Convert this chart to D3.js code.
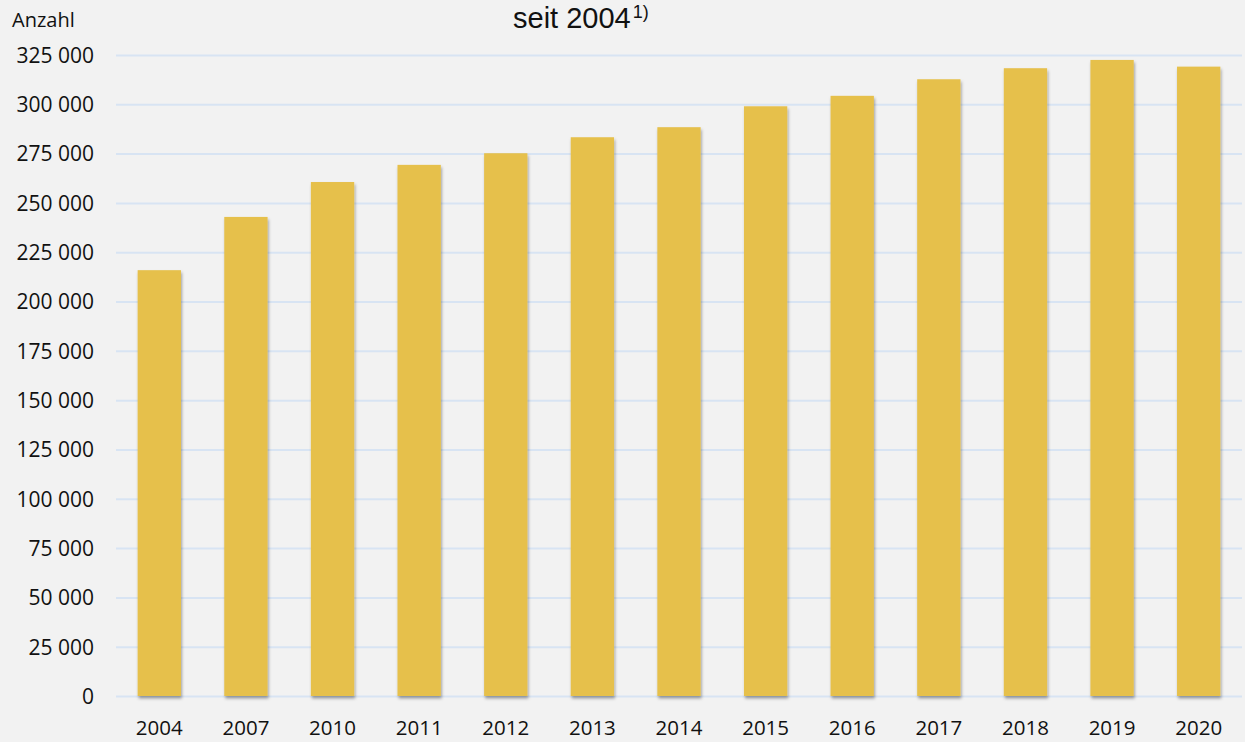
<!DOCTYPE html>
<html lang="de">
<head>
    <meta charset="utf-8">
    <title>Anzahl seit 2004</title>
    <script src="https://d3js.org/d3.v7.min.js"></script>
    <style>
        body {
            margin: 0;
            background-color: #f2f2f2;
            overflow: hidden;
        }

        .tick text, .label {
            font-family: "Open Sans", "Noto Sans", sans-serif;
            fill: #111;
        }

        .title {
            font-family: "Liberation Sans", Arial, sans-serif;
            fill: #111;
        }
    </style>
</head>
<body>
<script>

    var years = ["2004", "2007", "2010", "2011", "2012", "2013", "2014", "2015", "2016", "2017", "2018", "2019", "2020"];
    var values = [215900, 242900, 260600, 269300, 275200, 283300, 288400, 299000, 304300, 312700, 318300, 322500, 319100];
    var yTicks = [0, 25000, 50000, 75000, 100000, 125000, 150000, 175000, 200000, 225000, 250000, 275000, 300000, 325000];

    var w = 1245;
    var h = 742;

    var svg = d3.select("body")
        .append("svg")
        .attr("width", w)
        .attr("height", h);

    //soft shadow behind the bars
    var filter = svg.append("defs").append("filter")
        .attr("id", "shadow")
        .attr("x", "-20%").attr("y", "-5%")
        .attr("width", "140%").attr("height", "112%");
    filter.append("feDropShadow")
        .attr("dx", 1)
        .attr("dy", 2.5)
        .attr("stdDeviation", 1.5)
        .attr("flood-color", "#000")
        .attr("flood-opacity", 0.35);

    //scales
    var xScale = d3.scaleBand()
        .domain(years)
        .range([116, 1242])
        .paddingInner(0.5)
        .paddingOuter(0.25);

    var yScale = d3.scaleLinear()
        .domain([0, 325000])
        .range([696, 55]);

    var fmt = function(d) {
        return d3.format(",")(d).replace(/,/g, " ");
    };

    //horizontal grid lines + labels
    var yAxis = d3.axisLeft(yScale)
        .tickValues(yTicks)
        .tickFormat(fmt)
        .tickSize(-(1242 - 116))
        .tickPadding(22);

    var gy = svg.append("g")
        .attr("transform", "translate(116,0)")
        .call(yAxis);
    gy.select(".domain").remove();
    gy.selectAll(".tick line")
        .attr("stroke", "#d8e4f3")
        .attr("stroke-width", 2);
    gy.selectAll(".tick text")
        .style("font-size", "21px")
        .attr("dy", "0.35em");

    //bars
    svg.selectAll("rect.bar")
        .data(values)
        .enter()
        .append("rect")
        .attr("class", "bar")
        .attr("x", function(d, i) {
            return xScale(years[i]);
        })
        .attr("y", function(d) {
            return yScale(d);
        })
        .attr("width", xScale.bandwidth())
        .attr("height", function(d) {
            return yScale(0) - yScale(d);
        })
        .attr("fill", "#e6c04b")
        .attr("filter", "url(#shadow)");

    //year labels
    var xAxis = d3.axisBottom(xScale).tickSize(0).tickPadding(0);
    var gx = svg.append("g")
        .attr("transform", "translate(0,716)")
        .call(xAxis);
    gx.select(".domain").remove();
    gx.selectAll(".tick text")
        .style("font-size", "20.5px")
        .attr("dy", "0.95em");

    //unit label
    svg.append("text")
        .attr("class", "label")
        .attr("x", 12)
        .attr("y", 27)
        .style("font-size", "20px")
        .text("Anzahl");

    //title (its first line lies above the picture)
    var title = svg.append("text")
        .attr("class", "title")
        .attr("x", 513)
        .attr("y", 28)
        .style("font-size", "29px");
    title.append("tspan").text("seit 2004");
    title.append("tspan")
        .attr("dx", 2)
        .attr("dy", -10)
        .style("font-size", "18px")
        .text("1)");

</script>
</body>
</html>
